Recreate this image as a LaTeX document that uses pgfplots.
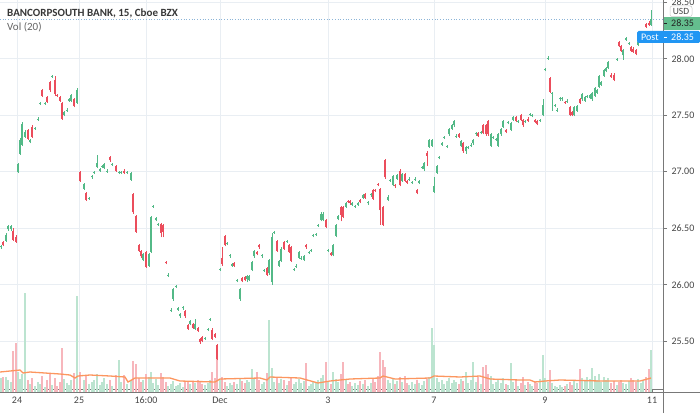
\documentclass[border=0pt]{standalone}
\usepackage{fontspec}
\setmainfont{Carlito}
\usepackage{pgfplots}
\usepackage{pgfplotstable}
\pgfplotsset{compat=1.18}
\definecolor{upc}{RGB}{83,185,135}
\definecolor{dnc}{RGB}{235,77,92}
\definecolor{volup}{RGB}{188,228,208}
\definecolor{voldn}{RGB}{247,182,188}
\definecolor{volma}{RGB}{252,150,95}
\definecolor{gridc}{RGB}{233,238,243}
\definecolor{axc}{RGB}{120,120,120}
\definecolor{txt}{RGB}{70,70,70}
\definecolor{darktxt}{RGB}{35,35,35}
\definecolor{titletxt}{RGB}{55,55,55}
\definecolor{voltxt}{RGB}{100,100,100}
\definecolor{boxline}{RGB}{200,200,200}
\definecolor{postb}{RGB}{33,150,243}
\definecolor{dotc}{RGB}{140,180,215}
\definecolor{lastg}{RGB}{100,190,142}

\pgfplotstableread{
x o h l c v
1 26.33 26.35 26.32 26.34 1400
6 26.39 26.46 26.38 26.44 1500
8 26.49 26.53 26.48 26.52 1200
11 26.49 26.53 26.48 26.52 1000
18 27.00 27.08 26.99 27.07 2000
20 27.16 27.30 27.15 27.28 1300
22 27.24 27.44 27.23 27.42 1800
25 27.31 27.37 27.30 27.35 9900
30 27.26 27.29 27.25 27.28 800
35 27.38 27.40 27.37 27.39 600
38 27.46 27.48 27.45 27.47 1000
40 27.60 27.62 27.59 27.61 800
45 27.60 27.62 27.59 27.61 500
52 27.84 27.86 27.83 27.85 700
64 27.50 27.54 27.49 27.53 1300
67 27.54 27.56 27.53 27.55 900
69 27.63 27.65 27.62 27.64 700
71 27.63 27.69 27.62 27.68 1200
77 27.61 27.74 27.60 27.72 9600
84 26.85 26.90 26.84 26.89 1200
89 26.76 26.78 26.75 26.77 800
92 26.95 26.97 26.94 26.96 1000
94 26.99 27.01 26.98 27.00 1200
97 27.04 27.15 27.03 27.08 1800
100 27.01 27.03 27.00 27.02 700
102 27.04 27.06 27.03 27.05 1000
104 27.03 27.08 27.02 27.07 1400
107 27.00 27.02 26.99 27.01 800
112 27.06 27.08 27.05 27.07 600
119 26.99 27.01 26.98 27.00 3200
121 26.99 27.01 26.98 27.00 1000
127 26.99 27.01 26.98 27.00 800
131 26.93 27.00 26.92 26.99 1200
143 26.22 26.28 26.21 26.27 1200
149 26.17 26.28 26.16 26.27 1500
151 26.29 26.61 26.28 26.60 2000
153 26.69 26.71 26.68 26.70 900
156 26.57 26.60 26.56 26.59 1300
158 26.53 26.55 26.52 26.54 700
168 26.08 26.10 26.07 26.09 600
171 25.77 25.79 25.76 25.78 800
173 25.87 25.97 25.86 25.96 1100
176 25.98 26.00 25.97 25.99 600
178 25.78 25.80 25.77 25.79 700
180 25.72 25.75 25.71 25.74 900
183 25.79 25.81 25.78 25.80 500
190 25.65 25.69 25.64 25.68 800
195 25.61 25.70 25.60 25.65 900
205 25.52 25.54 25.51 25.53 700
208 25.60 25.62 25.59 25.61 900
210 25.69 25.71 25.68 25.70 1200
220 26.13 26.15 26.12 26.14 1200
227 26.36 26.38 26.35 26.37 600
230 26.25 26.27 26.24 26.26 900
232 26.17 26.19 26.16 26.18 700
237 26.03 26.05 26.02 26.04 800
240 25.87 25.97 25.86 25.96 1400
247 26.05 26.09 26.02 26.08 1200
249 26.04 26.09 26.03 26.08 1000
252 26.13 26.21 26.12 26.20 2300
254 26.25 26.31 26.24 26.30 1400
262 26.25 26.27 26.24 26.26 800
264 26.12 26.14 26.11 26.13 1000
269 26.10 26.23 26.09 26.22 7200
272 26.02 26.46 26.00 26.42 2400
274 26.46 26.48 26.45 26.47 1000
279 26.17 26.22 26.16 26.21 900
281 26.21 26.33 26.20 26.32 1300
287 26.38 26.40 26.37 26.39 700
294 26.13 26.15 26.12 26.14 800
296 26.16 26.18 26.15 26.17 1000
299 26.24 26.30 26.23 26.29 1300
301 26.23 26.25 26.22 26.24 900
304 26.22 26.26 26.21 26.25 1100
309 26.28 26.30 26.27 26.29 600
311 26.30 26.32 26.29 26.31 800
313 26.43 26.45 26.42 26.44 1000
316 26.44 26.46 26.43 26.45 900
318 26.52 26.54 26.51 26.53 1200
321 26.57 26.64 26.56 26.63 1400
323 26.57 26.64 26.56 26.63 1700
328 26.30 26.32 26.29 26.31 1000
333 26.26 26.36 26.25 26.35 2000
336 26.43 26.54 26.42 26.53 1300
338 26.58 26.62 26.57 26.61 1000
346 26.69 26.73 26.68 26.72 1200
352 26.71 26.73 26.70 26.72 600
355 26.69 26.71 26.68 26.70 900
358 26.71 26.73 26.70 26.72 700
363 26.77 26.80 26.76 26.79 800
368 26.72 26.74 26.71 26.73 600
371 26.79 26.81 26.78 26.80 900
388 26.75 26.79 26.74 26.78 1200
390 26.92 26.94 26.91 26.93 900
393 26.88 26.97 26.87 26.96 1400
397 26.94 26.98 26.93 26.97 1100
402 26.92 26.99 26.91 26.98 1000
409 26.93 26.95 26.92 26.94 700
412 26.90 26.92 26.89 26.91 1000
415 26.93 26.95 26.92 26.94 800
419 26.90 26.93 26.89 26.92 900
422 27.03 27.05 27.02 27.04 700
424 27.02 27.09 27.01 27.08 1100
429 27.22 27.29 27.21 27.28 1500
432 27.23 27.29 27.22 27.28 6400
434 26.82 26.95 26.81 26.87 4700
437 26.99 27.06 26.98 27.05 1400
439 27.12 27.14 27.11 27.13 1000
442 27.24 27.26 27.23 27.25 1200
444 27.30 27.32 27.29 27.31 800
447 27.22 27.24 27.21 27.23 1100
449 27.33 27.39 27.32 27.38 1400
452 27.38 27.42 27.37 27.41 900
454 27.41 27.46 27.40 27.45 1200
456 27.31 27.33 27.30 27.32 1000
461 27.23 27.28 27.22 27.27 1300
466 27.18 27.23 27.16 27.22 2000
468 27.21 27.23 27.20 27.22 900
471 27.23 27.25 27.22 27.24 1200
473 27.25 27.29 27.24 27.28 3000
476 27.33 27.35 27.32 27.34 1000
481 27.34 27.36 27.33 27.35 800
491 27.23 27.34 27.22 27.33 1600
493 27.30 27.32 27.29 27.31 800
496 27.28 27.30 27.27 27.29 1000
498 27.23 27.34 27.22 27.33 1200
501 27.33 27.39 27.32 27.38 900
503 27.40 27.46 27.39 27.45 1400
508 27.43 27.45 27.42 27.44 700
511 27.37 27.44 27.36 27.43 2900
513 27.46 27.49 27.45 27.48 1000
518 27.44 27.46 27.43 27.45 600
525 27.44 27.46 27.43 27.45 700
530 27.50 27.52 27.49 27.51 800
532 27.49 27.51 27.48 27.50 600
540 27.45 27.47 27.44 27.46 1300
543 27.50 27.64 27.49 27.59 3700
545 27.90 27.92 27.89 27.91 1400
548 28.00 28.02 27.99 28.01 1000
552 27.69 27.71 27.54 27.70 900
555 27.58 27.60 27.57 27.59 600
557 27.54 27.56 27.53 27.55 500
560 27.64 27.66 27.63 27.65 700
562 27.64 27.66 27.63 27.65 500
567 27.62 27.64 27.61 27.63 800
574 27.50 27.58 27.49 27.57 1100
577 27.54 27.59 27.53 27.58 900
582 27.64 27.70 27.63 27.69 1400
585 27.63 27.67 27.62 27.66 1200
587 27.66 27.68 27.65 27.67 1500
590 27.65 27.69 27.64 27.68 1300
592 27.64 27.71 27.63 27.70 2400
595 27.67 27.75 27.66 27.74 1600
597 27.70 27.73 27.69 27.72 1200
599 27.75 27.86 27.74 27.85 1800
601 27.77 27.80 27.76 27.79 1000
604 27.85 27.91 27.84 27.90 1500
606 27.89 27.93 27.88 27.92 1200
608 27.92 27.98 27.91 27.97 1400
617 27.99 28.01 27.98 28.00 700
623 28.03 28.09 27.99 28.08 900
626 28.17 28.19 28.16 28.18 800
629 28.13 28.15 28.12 28.14 1100
638 28.12 28.16 28.11 28.15 1300
641 28.16 28.20 28.15 28.19 900
643 28.19 28.24 28.18 28.23 1200
651 28.30 28.43 28.29 28.35 4200
}\uptab

\pgfplotstableread{
x o h l c v
3 26.38 26.39 26.34 26.35 1500
13 26.48 26.50 26.39 26.40 4100
16 26.42 26.44 26.37 26.38 4900
28 27.37 27.38 27.28 27.29 1200
32 27.40 27.41 27.30 27.31 1400
42 27.72 27.73 27.66 27.67 1600
47 27.66 27.67 27.61 27.62 1200
50 27.79 27.80 27.71 27.72 1800
55 27.81 27.85 27.67 27.69 1400
57 27.68 27.69 27.66 27.67 600
60 27.66 27.67 27.62 27.63 1000
62 27.61 27.62 27.46 27.47 4400
74 27.64 27.65 27.57 27.58 1900
80 27.00 27.01 26.91 26.92 2000
86 26.81 26.82 26.74 26.75 1600
110 27.13 27.14 27.09 27.10 1200
116 27.05 27.06 27.00 27.01 1700
124 27.01 27.02 26.98 26.99 1700
133 26.80 26.81 26.63 26.64 3100
136 26.61 26.62 26.46 26.47 2800
139 26.35 26.36 26.29 26.30 1400
141 26.30 26.31 26.24 26.25 1000
146 26.29 26.30 26.15 26.16 1800
161 26.54 26.55 26.42 26.46 1900
163 26.53 26.54 26.42 26.47 1500
166 26.20 26.21 26.18 26.19 1000
185 25.77 25.78 25.71 25.72 1000
188 25.64 25.65 25.60 25.61 1100
193 25.65 25.66 25.61 25.62 1000
198 25.62 25.63 25.58 25.59 1200
200 25.52 25.53 25.48 25.49 1000
202 25.54 25.55 25.49 25.50 800
212 25.60 25.62 25.51 25.52 2000
215 25.56 25.57 25.53 25.54 1400
217 25.47 25.48 25.33 25.34 4400
222 26.24 26.33 26.17 26.18 1500
225 26.43 26.44 26.34 26.35 1000
234 26.19 26.20 26.16 26.17 1000
242 26.06 26.07 26.02 26.03 1100
245 26.07 26.08 26.03 26.04 900
257 26.29 26.30 26.26 26.27 2000
259 26.35 26.36 26.32 26.33 1200
267 26.15 26.16 26.08 26.09 1900
277 26.39 26.40 26.29 26.30 1400
284 26.38 26.39 26.31 26.32 1200
289 26.35 26.36 26.28 26.29 1100
291 26.33 26.34 26.20 26.21 1500
306 26.35 26.36 26.32 26.33 2900
326 26.57 26.58 26.50 26.51 3000
331 26.28 26.29 26.25 26.26 800
341 26.69 26.70 26.56 26.62 1800
343 26.69 26.70 26.59 26.60 3000
348 26.74 26.75 26.72 26.73 800
350 26.74 26.75 26.71 26.72 1000
360 26.75 26.76 26.72 26.73 1100
365 26.80 26.81 26.76 26.77 1200
373 26.84 26.85 26.75 26.76 1400
375 26.84 26.85 26.82 26.83 1000
378 26.89 26.90 26.87 26.88 1600
380 26.85 26.86 26.53 26.66 4000
383 26.69 26.70 26.52 26.53 3200
385 27.10 27.11 26.94 26.95 2500
395 26.88 26.89 26.86 26.87 800
400 27.01 27.02 26.87 26.88 1500
405 26.98 26.99 26.91 26.92 1600
407 26.92 26.93 26.89 26.90 900
417 26.84 26.85 26.80 26.81 1200
427 27.17 27.18 27.05 27.14 1300
459 27.33 27.34 27.30 27.31 800
463 27.25 27.26 27.17 27.18 1100
478 27.34 27.35 27.31 27.32 1500
483 27.41 27.42 27.33 27.34 2500
486 27.41 27.42 27.32 27.33 2700
488 27.45 27.46 27.32 27.33 1800
506 27.37 27.38 27.34 27.35 800
516 27.48 27.49 27.44 27.45 1200
521 27.50 27.51 27.45 27.46 900
523 27.46 27.47 27.40 27.41 1500
528 27.47 27.48 27.44 27.45 1000
535 27.46 27.47 27.43 27.44 1100
537 27.45 27.46 27.41 27.42 900
550 27.83 27.84 27.70 27.71 2200
565 27.62 27.63 27.60 27.61 600
570 27.57 27.58 27.49 27.50 1000
572 27.53 27.54 27.49 27.50 700
580 27.64 27.65 27.60 27.61 2300
611 27.86 27.87 27.83 27.84 900
614 27.86 27.87 27.80 27.81 1100
619 28.15 28.16 28.10 28.11 1000
621 28.11 28.12 28.06 28.07 1200
631 28.10 28.11 28.06 28.07 1400
633 28.09 28.10 28.05 28.06 1200
636 28.08 28.09 28.03 28.04 1000
646 28.31 28.32 28.27 28.28 1500
649 28.32 28.33 28.29 28.30 2300
}\dntab

\pgfplotstableread{
x v
0 2000
20 2200
23 1900
30 2000
60 1800
70 1700
75 1400
78 1600
90 1700
110 1600
125 1500
128 1000
135 1400
170 1400
180 1100
215 1000
220 1300
260 1400
267 1200
270 1500
300 1400
318 900
330 1100
350 1300
380 1400
383 1600
395 1300
430 1400
434 1600
460 1500
480 1600
490 1300
520 1200
530 1200
535 1000
545 1100
560 1200
600 1100
640 1100
651 1400
}\matab

\begin{document}
\begin{tikzpicture}[x=1pt,y=1pt]
\useasboundingbox (0,0) rectangle (700,413);
\pgfplotsset{base/.style={at={(0,21)}, anchor=south west, scale only axis,
  width=663pt, height=392pt, xmin=0, xmax=663},
  candle/.style={draw=none, mark=none, error bars/.cd, y dir=plus, y explicit, error mark=none,
  error bar style={draw=#1}}}
% grid and ticks
\begin{axis}[base, ymin=25.075, ymax=28.544,
  axis x line*=bottom, axis y line*=right,
  axis line style={draw=axc, line width=0.7pt},
  xtick={17,79,146,220,328,434,545,652},
  xticklabels={24,25,16:00,Dec,3,7,9,11},
  ytick={25.5,26,26.5,27,27.5,28,28.5},
  yticklabels={25.50,26.00,26.50,27.00,27.50,28.00,28.50},
  tick align=outside, major tick length=4pt,
  tick style={draw=axc, line width=0.6pt},
  grid=major, grid style={draw=gridc, line width=0.7pt},
  tick label style={font=\fontsize{10}{12}\selectfont, text=txt},
  yticklabel style={xshift=1pt},
  /pgf/number format/assume math mode=true]
\addplot[draw=dotc, dotted, line width=0.7pt] coordinates {(0,28.35) (663,28.35)};
\end{axis}
% volume
\begin{axis}[base, ymin=0, ymax=39200, hide axis]
\addplot[ycomb, draw=volup, line width=1.5pt] table[x=x,y=v] {\uptab};
\addplot[ycomb, draw=voldn, line width=1.5pt] table[x=x,y=v] {\dntab};
\addplot[draw=volma, line width=1.3pt] table[x=x,y=v] {\matab};
\end{axis}
% candles
\begin{axis}[base, ymin=25.075, ymax=28.544, hide axis]
\addplot[candle={upc, line width=0.6pt}]
  table[x=x, y=l, y error plus expr=\thisrow{h}-\thisrow{l}] {\uptab};
\addplot[candle={upc, line width=1.7pt}]
  table[x=x, y=o, y error plus expr=\thisrow{c}-\thisrow{o}] {\uptab};
\addplot[candle={dnc, line width=0.6pt}]
  table[x=x, y=l, y error plus expr=\thisrow{h}-\thisrow{l}] {\dntab};
\addplot[candle={dnc, line width=1.7pt}]
  table[x=x, y=c, y error plus expr=\thisrow{o}-\thisrow{c}] {\dntab};
\end{axis}
% axis line extensions
\draw[axc, line width=0.7pt] (663,0) -- (663,413);
\draw[axc, line width=0.7pt] (0,21) -- (700,21);
% title
\node[anchor=base west, inner sep=0, text=titletxt, font=\bfseries\fontsize{11}{13}\selectfont] at (7,396) {BANCORPSOUTH BANK, 15, Cboe BZX};
\node[anchor=base west, inner sep=0, text=voltxt, font=\fontsize{11}{13}\selectfont] at (7,382) {Vol (20)};
% price labels
\fill[lastg] (664,383) rectangle (700,396);
\draw[draw=darktxt, line width=0.6pt] (664,389.5) -- (667,389.5);
\node[text=darktxt, font=\fontsize{10}{12}\selectfont, anchor=west, inner sep=0] at (671,389.5) {28.35};
\fill[postb, rounded corners=1.5pt] (637,370) rectangle (700,382);
\node[text=white, font=\fontsize{10}{12}\selectfont, anchor=west, inner sep=0] at (641,376) {Post};
\node[text=white, font=\fontsize{10}{12}\selectfont, anchor=west, inner sep=0] at (671,376) {28.35};
\draw[draw=white, line width=0.6pt] (664,376) -- (667,376);
\filldraw[fill=white, draw=boxline, rounded corners=2pt, line width=0.5pt] (670,396.5) rectangle (692,407);
\node[text=txt, font=\fontsize{9.5}{10}\selectfont] at (681,401.8) {USD};
\end{tikzpicture}
\end{document}
